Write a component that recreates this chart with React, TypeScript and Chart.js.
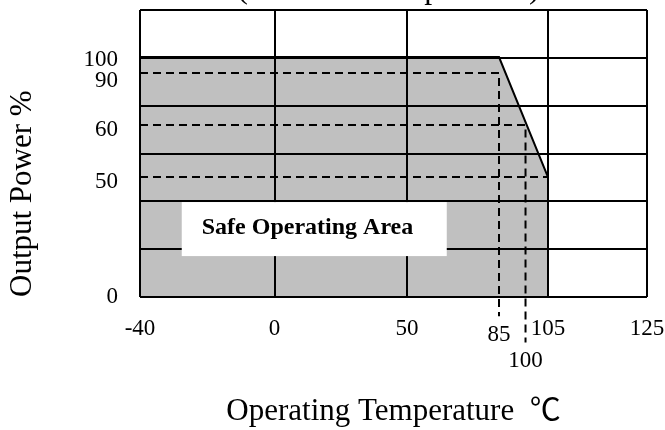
import React, { useEffect, useRef } from 'react';
import { Chart, registerables, LinearScale } from 'chart.js';

// ---------------- data ----------------
const X_TICKS = [-40, 0, 50, 85, 100, 105, 125];
const X_GRID_VALUES = [-40, 0, 50, 105, 125];
const Y_TICKS = [0, 50, 60, 90, 100];
const Y_ROWS = 6;

// safe operating area boundary (temperature °C, output power %)
const SOA_TEMP = [-40, 85, 105];
const SOA_POWER = [100, 100, 50];

// dashed reference lines
const REF90_TEMP = [-40, 85, 85];
const REF90_POWER = [90, 90, -8];
const REF60_TEMP = [-40, 100, 100];
const REF60_POWER = [60, 60, -19];
const REF50_TEMP = [-40, 105];
const REF50_POWER = [50, 50];

const LABEL_AT = [15, 28.3];

const TOP_TITLE = '(Ambient Temperature)';
const X_TITLE = 'Operating Temperature  ℃';
const Y_TITLE = 'Output Power %';
const AREA_LABEL = 'Safe Operating Area';

// ------------- schematic (piecewise) axis layout -------------
const AXIS_MAPS: Record<string, { values: number[]; stops: number[] }> = {
  x: { values: [-40, 0, 50, 85, 100, 105, 125], stops: [0, 0.2653, 0.5266, 0.7081, 0.7604, 0.8047, 1] },
  y: { values: [0, 50, 60, 90, 100, 120], stops: [0, 0.4181, 0.5993, 0.7805, 0.8362, 1] },
};

function toDecimal(v: number, m: { values: number[]; stops: number[] }) {
  const { values, stops } = m;
  const n = values.length;
  let i = 1;
  while (i < n - 1 && v > values[i]) i++;
  const v0 = values[i - 1], v1 = values[i];
  return stops[i - 1] + ((v - v0) / (v1 - v0)) * (stops[i] - stops[i - 1]);
}
function fromDecimal(d: number, m: { values: number[]; stops: number[] }) {
  const { values, stops } = m;
  const n = stops.length;
  let i = 1;
  while (i < n - 1 && d > stops[i]) i++;
  const s0 = stops[i - 1], s1 = stops[i];
  return values[i - 1] + ((d - s0) / (s1 - s0)) * (values[i] - values[i - 1]);
}

class PiecewiseScale extends LinearScale {
  static id = 'piecewise';
  static defaults = {};
  getPixelForValue(value: any) {
    if (value === null || value === undefined || isNaN(value)) return NaN;
    return this.getPixelForDecimal(toDecimal(+value, AXIS_MAPS[(this as any).id]));
  }
  getValueForPixel(pixel: number) {
    return fromDecimal(this.getDecimalForPixel(pixel), AXIS_MAPS[(this as any).id]);
  }
}

Chart.register(...registerables, PiecewiseScale as any);

const SERIF = "'Liberation Serif', 'Times New Roman', serif";
const SERIF_CJK = "'Liberation Serif', 'Noto Sans CJK SC', serif";

const X_LABEL_LINE: Record<number, string> = { 85: '40px', 100: '91px' };
const Y_LABEL_LINE: Record<number, string> = { 100: '6px', 90: '15px', 60: '10px', 50: '10px' };

const zip = (xs: number[], ys: number[]) => xs.map((x, i) => ({ x, y: ys[i] }));

const zeroPad = (s: any) => {
  s.paddingLeft = 0;
  s.paddingRight = 0;
  s.paddingTop = 0;
  s.paddingBottom = 0;
};

const annotations = {
  id: 'soaAnnotations',
  afterDraw(chart: any) {
    const { ctx, chartArea, scales } = chart;
    ctx.save();
    ctx.fillStyle = '#000';
    ctx.font = `32px ${SERIF}`;
    ctx.textAlign = 'center';
    ctx.textBaseline = 'alphabetic';
    ctx.fillText(TOP_TITLE, (chartArea.left + chartArea.right) / 2 - 5, -2);

    const cx = scales.x.getPixelForValue(LABEL_AT[0]);
    const cy = scales.y.getPixelForValue(LABEL_AT[1]);
    const w = 265, h = 54;
    ctx.fillStyle = '#fff';
    ctx.fillRect(cx - w / 2, cy - h / 2, w, h);
    ctx.fillStyle = '#000';
    ctx.font = `bold 24px ${SERIF}`;
    ctx.textAlign = 'left';
    ctx.fillText(AREA_LABEL, cx - w / 2 + 20, cy + 5);
    ctx.restore();
  },
};

export default function App() {
  const ref = useRef<HTMLCanvasElement>(null);
  useEffect(() => {
    const dashed = {
      borderColor: '#000',
      borderWidth: 2,
      borderDash: [8, 5],
      pointRadius: 0,
      fill: false,
      clip: false as any,
      tension: 0,
      xAxisID: 'x',
      yAxisID: 'y',
      order: 1,
    };
    const chart = new Chart(ref.current as HTMLCanvasElement, {
      type: 'line',
      data: {
        datasets: [
          { ...dashed, data: zip(REF90_TEMP, REF90_POWER) },
          { ...dashed, data: zip(REF60_TEMP, REF60_POWER) },
          { ...dashed, data: zip(REF50_TEMP, REF50_POWER) },
          {
            data: zip(SOA_TEMP, SOA_POWER),
            borderColor: '#000',
            borderWidth: 2,
            backgroundColor: '#c0c0c0',
            fill: 'origin',
            pointRadius: 0,
            tension: 0,
            xAxisID: 'x',
            yAxisID: 'y',
            order: 2,
          },
        ] as any,
      },
      options: {
        responsive: false,
        animation: false,
        devicePixelRatio: 1,
        layout: { padding: { top: 10, right: 18, bottom: 0, left: 0 } },
        plugins: { legend: { display: false }, tooltip: { enabled: false }, title: { display: false } },
        events: [],
        scales: {
          x: {
            type: 'piecewise' as any,
            axis: 'x',
            position: 'bottom',
            min: -40,
            max: 125,
            afterBuildTicks: (s: any) => {
              s.ticks = X_TICKS.map((value) => ({ value }));
            },
            afterFit: (s: any) => {
              s.height = 133;
              zeroPad(s);
            },
            grid: {
              display: true,
              drawTicks: false,
              lineWidth: 2,
              z: 1,
              color: (c: any) =>
                c.tick && X_GRID_VALUES.includes(c.tick.value) ? '#000' : 'rgba(0,0,0,0)',
            },
            border: { display: false },
            ticks: {
              padding: 18,
              color: '#000',
              autoSkip: false,
              maxRotation: 0,
              minRotation: 0,
              font: (c: any) => ({
                family: SERIF,
                size: 23,
                lineHeight: (c && c.tick && X_LABEL_LINE[c.tick.value]) || 1.2,
              }),
              callback: (v: any) => String(v),
            },
            title: {
              display: true,
              text: X_TITLE,
              color: '#000',
              font: { family: SERIF_CJK, size: 31 },
              padding: { top: 0, bottom: 0 },
            },
          } as any,
          y: {
            type: 'piecewise' as any,
            axis: 'y',
            position: 'left',
            min: 0,
            max: 120,
            afterBuildTicks: (s: any) => {
              s.ticks = Y_TICKS.map((value) => ({ value }));
            },
            afterFit: (s: any) => {
              s.width = 140;
              zeroPad(s);
            },
            grid: { display: false, drawTicks: false },
            border: { display: false },
            ticks: {
              padding: 22,
              color: '#000',
              autoSkip: false,
              font: (c: any) => ({
                family: SERIF,
                size: 23,
                lineHeight: (c && c.tick && Y_LABEL_LINE[c.tick.value]) || 1.2,
              }),
              callback: (v: any) => (Y_LABEL_LINE[v] ? ['', String(v)] : String(v)),
            },
            title: {
              display: true,
              text: Y_TITLE,
              align: 'start',
              color: '#000',
              font: { family: SERIF, size: 31 },
              padding: { top: 4, bottom: 0 },
            },
          } as any,
          rows: {
            type: 'linear',
            axis: 'y',
            position: 'left',
            min: 0,
            max: Y_ROWS,
            afterFit: (s: any) => {
              s.width = 0;
              zeroPad(s);
            },
            ticks: { display: false, stepSize: 1 },
            grid: { display: true, drawTicks: false, lineWidth: 2, color: '#000', z: 1 },
            border: { display: false },
          } as any,
        },
      },
      plugins: [annotations],
    });
    return () => chart.destroy();
  }, []);
  return (
    <div style={{ position: 'fixed', left: 0, top: 0, width: 665, height: 430, background: '#fff' }}>
      <canvas ref={ref} width={665} height={430} style={{ display: 'block' }} />
    </div>
  );
}
